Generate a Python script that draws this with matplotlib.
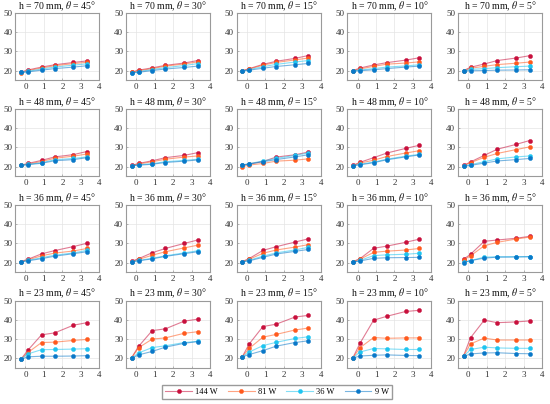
import numpy as np
import matplotlib
matplotlib.use("Agg")
import matplotlib.pyplot as plt
from matplotlib.colors import to_rgba

plt.rcParams['font.family'] = ['Liberation Serif', 'DejaVu Serif']
plt.rcParams['mathtext.fontset'] = 'stix'

# positions along the duct (x axis)
x = [-0.25, 0.13, 0.87, 1.58, 2.6, 3.33]

heights = [70, 48, 36, 23]
angles = [45, 30, 15, 10, 5]
powers = ["144 W", "81 W", "36 W", "9 W"]
colors = ["#c8103c", "#ff5a1e", "#1ec4f0", "#0a78c8"]

# temperatures, one dict per height: angle -> [144 W, 81 W, 36 W, 9 W]
h70 = {
    45: [[19.2, 20.3, 21.8, 23.0, 24.2, 25.0],
         [18.8, 20.0, 21.3, 22.5, 23.6, 24.3],
         [19.0, 19.6, 20.8, 21.8, 22.8, 23.5],
         [19.0, 19.3, 20.2, 21.0, 21.8, 22.5]],
    30: [[19.2, 20.2, 21.4, 22.7, 23.9, 25.2],
         [19.0, 19.9, 21.0, 22.3, 23.4, 24.5],
         [18.9, 19.5, 20.5, 21.5, 22.6, 23.6],
         [18.8, 19.1, 20.0, 20.8, 21.6, 22.3]],
    15: [[19.9, 21.0, 23.2, 24.8, 26.3, 27.8],
         [19.8, 20.8, 22.8, 24.2, 25.5, 26.5],
         [19.8, 20.5, 22.0, 23.2, 24.4, 25.2],
         [19.7, 20.2, 21.2, 22.1, 23.0, 23.7]],
    10: [[20.0, 21.3, 22.9, 24.1, 25.4, 26.6],
         [19.8, 20.8, 22.2, 23.3, 23.9, 24.5],
         [19.7, 20.3, 21.0, 21.8, 22.4, 23.0],
         [19.6, 19.9, 20.4, 21.0, 21.8, 22.3]],
    5: [[20.0, 21.7, 23.4, 25.2, 26.5, 27.7],
        [19.8, 21.2, 22.2, 23.1, 23.8, 24.4],
        [19.7, 20.6, 21.0, 21.5, 22.0, 22.3],
        [19.6, 19.9, 20.0, 20.2, 20.3, 20.4]],
}
h48 = {
    45: [[20.7, 21.6, 23.2, 25.0, 26.2, 27.8],
         [20.6, 21.3, 22.6, 24.3, 25.4, 26.5],
         [20.6, 21.1, 22.0, 23.5, 24.2, 25.0],
         [20.6, 21.0, 21.7, 23.0, 23.6, 24.6]],
    30: [[20.6, 21.6, 23.0, 24.6, 25.8, 27.2],
         [20.5, 21.3, 22.5, 23.8, 24.9, 25.5],
         [20.5, 20.9, 21.5, 22.5, 23.2, 23.8],
         [20.4, 20.7, 21.2, 22.1, 22.8, 23.4]],
    15: [[20.6, 21.4, 22.6, 24.9, 26.1, 27.5],
         [20.0, 20.8, 21.6, 22.8, 23.3, 24.0],
         [20.9, 21.5, 22.9, 24.2, 25.8, 27.0],
         [20.7, 21.3, 22.5, 23.6, 25.0, 26.1]],
    10: [[20.6, 22.2, 24.6, 27.0, 29.4, 31.0],
         [20.5, 21.8, 23.3, 25.2, 27.0, 28.2],
         [20.5, 21.2, 22.3, 23.8, 25.4, 26.3],
         [20.4, 20.9, 22.0, 23.5, 25.0, 26.0]],
    5: [[20.6, 22.4, 25.8, 29.0, 31.5, 33.5],
        [20.5, 22.0, 24.8, 26.8, 28.8, 30.2],
        [20.3, 21.0, 22.5, 24.0, 25.0, 25.5],
        [20.1, 20.6, 21.8, 22.9, 23.6, 24.2]],
}
h36 = {
    45: [[20.5, 21.7, 24.5, 26.2, 28.3, 30.0],
         [20.4, 21.4, 23.5, 24.9, 26.0, 27.3],
         [20.4, 21.1, 22.5, 23.8, 25.0, 26.3],
         [20.4, 20.9, 22.0, 23.3, 24.6, 25.6]],
    30: [[20.6, 22.0, 25.1, 27.3, 29.9, 31.7],
         [20.5, 21.6, 23.8, 25.6, 27.6, 29.0],
         [20.4, 21.1, 22.2, 23.5, 25.0, 26.1],
         [20.4, 20.9, 21.9, 23.2, 24.6, 25.6]],
    15: [[20.5, 22.1, 26.3, 28.2, 30.6, 32.3],
         [20.4, 21.7, 24.8, 26.5, 28.0, 29.3],
         [20.4, 21.2, 23.3, 25.0, 26.5, 27.9],
         [20.4, 20.9, 22.7, 24.4, 25.8, 26.8]],
    10: [[20.5, 22.0, 27.4, 28.5, 30.5, 32.1],
         [20.4, 21.7, 25.3, 25.9, 26.5, 27.3],
         [20.3, 21.1, 23.6, 24.0, 24.3, 24.8],
         [20.2, 20.8, 22.2, 22.5, 22.6, 22.7]],
    5: [[21.7, 24.3, 31.0, 31.7, 32.6, 33.6],
        [21.3, 23.5, 28.7, 30.5, 32.2, 33.2],
        [20.2, 21.0, 22.8, 23.0, 23.0, 23.1],
        [20.0, 21.0, 22.3, 22.8, 22.9, 23.0]],
}
h23 = {
    45: [[19.5, 24.2, 32.2, 33.2, 37.2, 38.5],
         [19.5, 23.0, 28.2, 28.4, 29.3, 29.8],
         [19.5, 22.3, 24.5, 24.6, 24.8, 25.0],
         [19.5, 20.8, 21.1, 21.1, 21.2, 21.4]],
    30: [[20.3, 26.2, 34.4, 35.3, 39.3, 40.3],
         [20.2, 25.5, 30.0, 30.6, 33.0, 33.8],
         [20.1, 22.8, 25.6, 26.5, 28.2, 28.8],
         [20.0, 21.8, 23.6, 25.8, 27.8, 28.7]],
    15: [[20.8, 27.5, 36.5, 37.7, 41.4, 42.3],
         [20.8, 25.2, 31.0, 32.4, 34.7, 35.7],
         [20.8, 23.3, 26.6, 28.3, 30.3, 31.2],
         [20.8, 22.0, 24.0, 26.3, 28.2, 29.1]],
    10: [[20.4, 27.8, 39.8, 41.8, 44.3, 44.9],
         [20.3, 25.5, 30.8, 30.4, 30.6, 30.6],
         [20.3, 23.3, 25.1, 24.9, 24.6, 24.6],
         [20.2, 21.2, 21.6, 21.8, 21.5, 21.4]],
    5: [[21.3, 30.7, 39.8, 38.5, 38.9, 39.4],
        [21.2, 27.5, 30.5, 29.5, 29.5, 29.5],
        [21.1, 24.6, 25.8, 25.4, 25.2, 25.2],
        [21.0, 22.3, 22.8, 22.9, 22.5, 22.4]],
}
data = [h70, h48, h36, h23]

W, H = 550, 404
fig = plt.figure(figsize=(W / 100, H / 100), dpi=100)

col_left = [15.3, 126.0, 236.7, 347.4, 458.0]
row_top = [12.7, 108.7, 204.7, 300.5]
ax_w, ax_h = 84.0, 67.5

handles = []
for r, h in enumerate(heights):
    for c, th in enumerate(angles):
        ax = fig.add_axes([col_left[c] / W, 1 - (row_top[r] + ax_h) / H, ax_w / W, ax_h / H])
        for k in range(4):
            ln, = ax.plot(x, data[r][th][k], color=to_rgba(colors[k], 0.55), lw=0.8,
                          marker='o', ms=3.0, mfc=colors[k], mec=colors[k], mew=0.3,
                          label=powers[k])
            if r == 0 and c == 0:
                handles.append(ln)
        ax.set_xlim(-0.55, 4)
        ax.set_ylim(15, 50)
        ax.set_xticks([0, 1, 2, 3, 4])
        ax.set_yticks([20, 30, 40, 50])
        ax.grid(True, color='#e4e4e4', lw=0.5)
        ax.set_axisbelow(True)
        for s in ax.spines.values():
            s.set_color('#9a9a9a')
            s.set_linewidth(0.8)
        ax.tick_params(direction='in', length=1.5, width=0.5, color='#9a9a9a',
                       labelsize=6.5, labelcolor='#333333', pad=2)
        ax.set_title(f"h = {h} mm, $\\theta$ = {th}\u00b0", fontsize=7, pad=2.5, color='#111111')

fig.legend(handles=handles, loc='center', bbox_to_anchor=(277 / W, 1 - 392 / H), ncol=4,
           fontsize=6, frameon=True, fancybox=False, edgecolor='#9a9a9a', handlelength=3.2,
           columnspacing=1.2, handletextpad=0.4, borderpad=0.35, framealpha=1)

fig.savefig("out.png", dpi=100)
